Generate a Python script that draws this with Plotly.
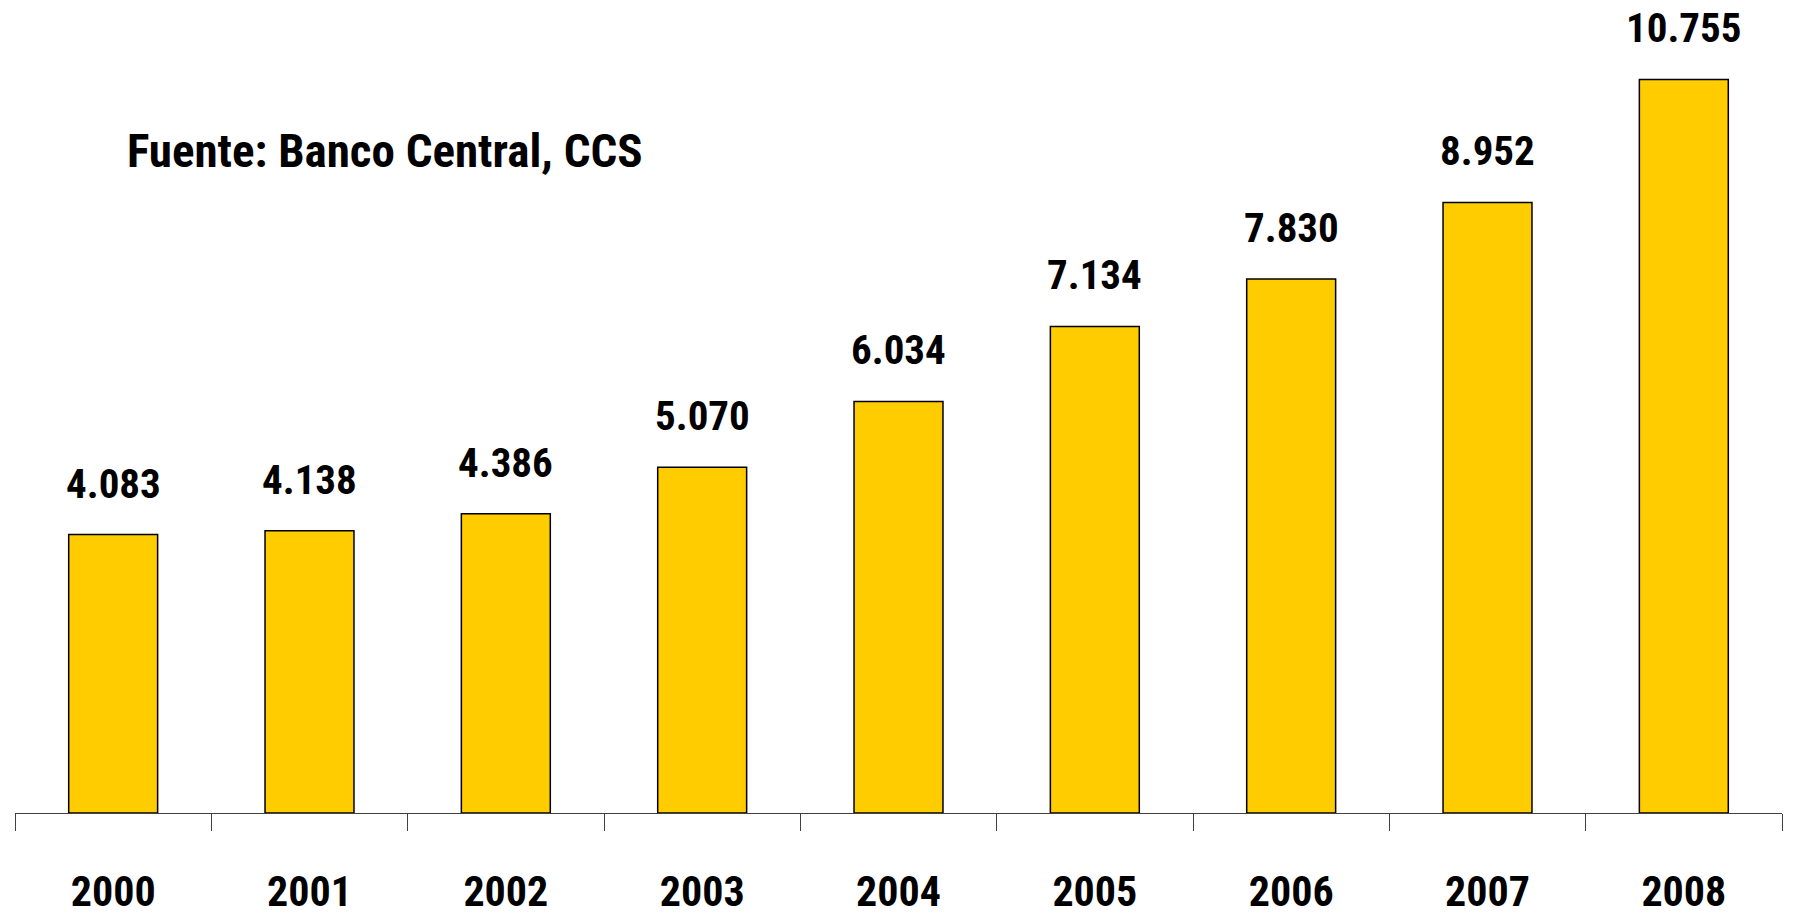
import plotly.graph_objects as go

years = ["2000", "2001", "2002", "2003", "2004", "2005", "2006", "2007", "2008"]
values = [4083, 4138, 4386, 5070, 6034, 7134, 7830, 8952, 10755]
source_note = "Fuente: Banco Central, CCS"

FONT = "Roboto Condensed, Arial Narrow, sans-serif"

fig = go.Figure()
fig.add_trace(go.Bar(
    x=years, y=values,
    marker=dict(color="#FFCC00", line=dict(color="#000000", width=1.5)),
    hoverinfo="skip",
))

for i, v in enumerate(values):
    fig.add_annotation(
        x=i, y=v, xref="x", yref="y",
        text="<b>" + f"{v:,}".replace(",", ".") + "</b>",
        showarrow=False, yanchor="middle", yshift=51,
        font=dict(family=FONT, size=41, color="#000000"),
    )

fig.add_annotation(
    x=0.0623, y=0.815, xref="paper", yref="paper",
    text="<b>" + source_note + "</b>", showarrow=False,
    xanchor="left", yanchor="middle",
    font=dict(family=FONT, size=47, color="#000000"),
)

fig.update_layout(
    width=1795, height=916,
    margin=dict(l=15, r=13, t=0, b=97),
    paper_bgcolor="white", plot_bgcolor="white",
    bargap=0.547,
    showlegend=False,
    xaxis=dict(
        type="category",
        showline=True, linecolor="#404040", linewidth=1,
        ticks="outside", tickson="boundaries", ticklen=17, tickcolor="#404040", tickwidth=1,
        tickfont=dict(family=FONT, size=42, color="#000000"),
        tickprefix="<b>", ticksuffix="</b>",
        ticklabelstandoff=42,
        showgrid=False, zeroline=False,
    ),
    yaxis=dict(
        range=[0, 11920], visible=False, showgrid=False, zeroline=False,
    ),
)

fig.write_html("out.html", config={"displayModeBar": False},
               post_script="document.body.style.margin='0';")
